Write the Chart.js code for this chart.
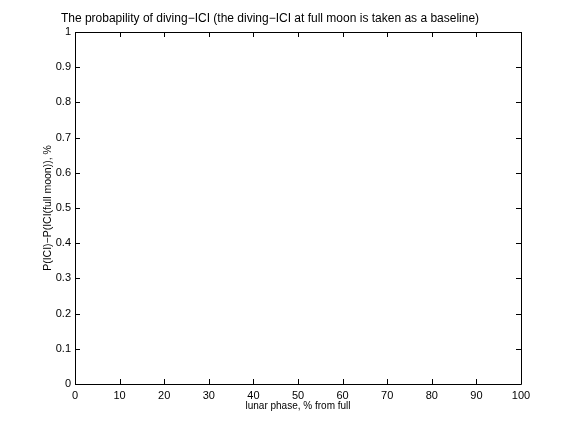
<!DOCTYPE html>
<html>
<head>
<meta charset="utf-8">
<script src="https://cdn.jsdelivr.net/npm/chart.js@4/dist/chart.umd.min.js"></script>
<style>
  body { margin: 0; background: #fff; }
  canvas { display: block; }
</style>
</head>
<body>
<canvas id="chart" width="576" height="432"></canvas>
<script>
// the figure has no plotted data, only the empty axes
var phase = [];
var prob = [];
var xTicks = [0, 10, 20, 30, 40, 50, 60, 70, 80, 90, 100];
var yTicks = [0, 0.1, 0.2, 0.3, 0.4, 0.5, 0.6, 0.7, 0.8, 0.9, 1];

var FONT = 'Liberation Sans, Arial, Helvetica, sans-serif';

// matlab style box with inward ticks on all four sides
var boxTicks = {
  id: 'boxTicks',
  afterDraw: function (chart) {
    var ctx = chart.ctx;
    var a = chart.chartArea;
    var xs = chart.scales.x, ys = chart.scales.y;
    var len = 5;
    ctx.save();
    ctx.strokeStyle = '#000';
    ctx.lineWidth = 1;
    ctx.beginPath();
    ctx.rect(Math.round(a.left) + 0.5, Math.round(a.top) + 0.5,
      Math.round(a.right - a.left), Math.round(a.bottom - a.top));
    xs.ticks.forEach(function (t) {
      var px = Math.round(xs.getPixelForValue(t.value)) + 0.5;
      ctx.moveTo(px, a.bottom);
      ctx.lineTo(px, a.bottom - len);
      ctx.moveTo(px, a.top);
      ctx.lineTo(px, a.top + len);
    });
    ys.ticks.forEach(function (t) {
      var py = Math.round(ys.getPixelForValue(t.value)) + 0.5;
      ctx.moveTo(a.left, py);
      ctx.lineTo(a.left + len, py);
      ctx.moveTo(a.right, py);
      ctx.lineTo(a.right - len, py);
    });
    ctx.stroke();
    ctx.restore();
  }
};

var whiteBg = {
  id: 'whiteBg',
  beforeDraw: function (chart) {
    var ctx = chart.ctx;
    ctx.save();
    ctx.fillStyle = '#fff';
    ctx.fillRect(0, 0, chart.width, chart.height);
    ctx.restore();
  }
};

var ctx = document.getElementById('chart').getContext('2d');
var myChart = new Chart(ctx, {
  type: 'scatter',
  data: {
    datasets: [{
      label: 'diving-ICI',
      data: phase.map(function (p, i) { return { x: p, y: prob[i] }; }),
      borderColor: '#0000ff',
      backgroundColor: '#0000ff',
      pointRadius: 3
    }]
  },
  options: {
    responsive: false,
    animation: false,
    layout: { padding: { left: 19, right: 55, top: 0, bottom: 0 } },
    scales: {
      x: {
        type: 'linear',
        min: 0,
        max: 100,
        afterBuildTicks: function (s) { s.ticks = xTicks.map(function (v) { return { value: v }; }); },
        afterFit: function (s) { s.height = 48; },
        grid: { display: false, drawTicks: false },
        border: { display: false },
        ticks: {
          color: '#000', padding: 5, maxRotation: 0, font: { family: FONT, size: 11 },
          callback: function (v) { return String(v); }
        },
        title: {
          display: true,
          text: 'lunar phase, % from full',
          color: '#000',
          font: { family: FONT, size: 10 },
          padding: { top: 0, bottom: 20 }
        }
      },
      y: {
        type: 'linear',
        min: 0,
        max: 1,
        afterBuildTicks: function (s) { s.ticks = yTicks.map(function (v) { return { value: v }; }); },
        afterFit: function (s) { s.width = 56; },
        grid: { display: false, drawTicks: false },
        border: { display: false },
        ticks: {
          color: '#000', padding: 4, font: { family: FONT, size: 11 },
          callback: function (v) { return String(v); }
        },
        title: {
          display: true,
          text: 'P(ICI)\u2212P(ICI(full moon)), %',
          color: '#000',
          font: { family: FONT, size: 10.5 },
          padding: { top: 23, bottom: 0 }
        }
      }
    },
    plugins: {
      legend: { display: false },
      tooltip: { enabled: false },
      title: {
        display: true,
        text: 'The probapility of diving\u2212ICI (the diving\u2212ICI at full moon is taken as a baseline)',
        color: '#000',
        font: { family: FONT, size: 12, weight: 'normal' },
        padding: { top: 11, bottom: 6.6 }
      }
    }
  },
  plugins: [whiteBg, boxTicks]
});
</script>
</body>
</html>
